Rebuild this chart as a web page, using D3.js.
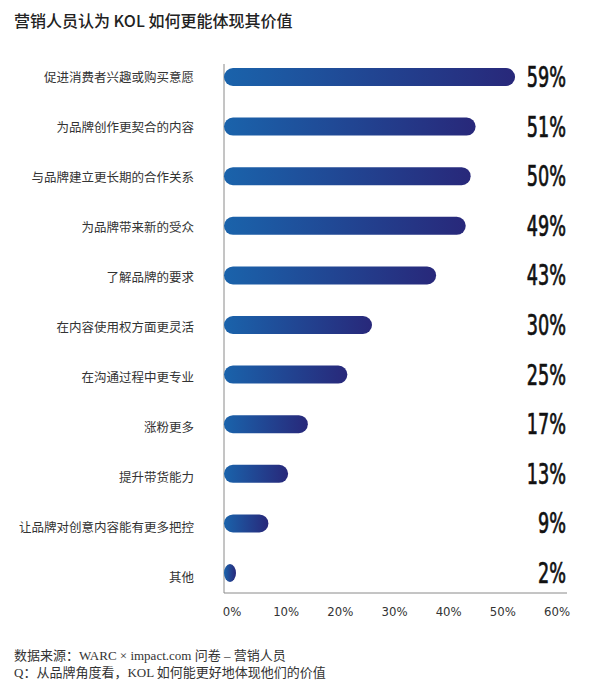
<!DOCTYPE html>
<html><head><meta charset="utf-8">
<script src="https://cdn.jsdelivr.net/npm/d3@7/dist/d3.min.js"></script>
<style>
body{margin:0;background:#fff;}
svg{display:block;}
</style></head>
<body>
<svg id="chart" width="600" height="683"></svg>
<script>
const categories = ["促进消费者兴趣或购买意愿","为品牌创作更契合的内容","与品牌建立更长期的合作关系","为品牌带来新的受众","了解品牌的要求","在内容使用权方面更灵活","在沟通过程中更专业","涨粉更多","提升带货能力","让品牌对创意内容能有更多把控","其他"];
const values = [59,51,50,49,43,30,25,17,13,9,2];
const tickValues = [0,10,20,30,40,50,60];
const title = "营销人员认为 KOL 如何更能体现其价值";
const notes = ["数据来源：WARC × impact.com 问卷 – 营销人员","Q：从品牌角度看，KOL 如何能更好地体现他们的价值"];

const svg = d3.select("#chart");
const defs = svg.append("defs");
const grad = defs.append("linearGradient").attr("id","barGrad").attr("x1","0").attr("x2","1").attr("y1","0").attr("y2","0");
grad.append("stop").attr("offset","0%").attr("stop-color","#1a63ab");
grad.append("stop").attr("offset","100%").attr("stop-color","#28287a");

const x = d3.scaleLinear().domain([0,60]).range([224,520]);
const xAxisScale = d3.scaleLinear().domain([0,60]).range([232,557]);
const y = d3.scalePoint().domain(categories).range([77,573]);
const bh = 18;

// title
svg.append("text").attr("x",14).attr("y",27).text(title)
  .attr("font-family","'Noto Sans CJK SC', sans-serif").attr("font-size",16).attr("font-weight",500).attr("fill","#222");

// axes lines
svg.append("line").attr("x1",224).attr("x2",224).attr("y1",64).attr("y2",593).attr("stroke","#8a8a8a").attr("stroke-width",1);
svg.append("line").attr("x1",224).attr("x2",567).attr("y1",593).attr("y2",593).attr("stroke","#8a8a8a").attr("stroke-width",1);

// bars
svg.selectAll("rect.bar").data(values).enter().append("rect").attr("class","bar")
  .attr("x",x(0))
  .attr("y",(d,i)=>y(categories[i])-bh/2)
  .attr("width",d=>Math.max(x(d)-x(0), 12))
  .attr("height",bh)
  .attr("rx",bh/2).attr("ry",bh/2)
  .attr("fill","url(#barGrad)");

// category labels
svg.selectAll("text.cat").data(categories).enter().append("text").attr("class","cat")
  .attr("x",194).attr("y",(d,i)=>y(d)+1+i*0.35).attr("dy","0.35em")
  .attr("text-anchor","end")
  .attr("font-family","'Noto Sans CJK SC', sans-serif").attr("font-size",12.5).attr("fill","#333")
  .text(d=>d);

// value labels
svg.selectAll("text.val").data(values).enter().append("text").attr("class","val")
  .attr("x",566).attr("y",(d,i)=>y(categories[i])+10)
  .attr("text-anchor","end")
  .attr("font-family","'Liberation Sans Narrow','DejaVu Sans Condensed', sans-serif").attr("font-size",28)
  .attr("fill","#111").attr("stroke","#111").attr("stroke-width",0.7)
  .attr("transform",`translate(566,0) scale(0.7,1) translate(-566,0)`)
  .text(d=>d+"%");

// x tick labels
svg.selectAll("text.tick").data(tickValues).enter().append("text").attr("class","tick")
  .attr("x",d=>xAxisScale(d)).attr("y",616)
  .attr("text-anchor","middle")
  .attr("font-family","'Liberation Sans Narrow','DejaVu Sans Condensed', sans-serif").attr("font-size",13).attr("fill","#333")
  .text(d=>d+"%");

// notes
svg.selectAll("text.note").data(notes).enter().append("text").attr("class","note")
  .attr("x",14).attr("y",(d,i)=>660+i*17)
  .attr("font-family","'Liberation Serif','Noto Sans CJK SC', serif").attr("font-size",13).attr("fill","#333")
  .text(d=>d);
</script>
</body></html>
